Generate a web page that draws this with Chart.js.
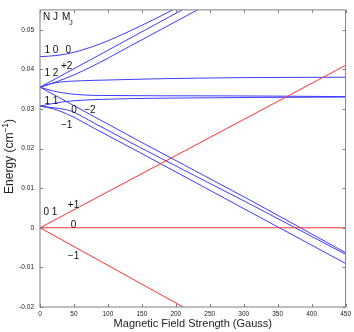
<!DOCTYPE html>
<html>
<head>
<meta charset="utf-8">
<script src="https://cdn.jsdelivr.net/npm/chart.js@4.4.1/dist/chart.umd.min.js"></script>
<style>
  html, body { margin: 0; padding: 0; background: #fff; }
</style>
</head>
<body>
<canvas id="canvas-zeeman" width="354" height="332"></canvas>
<script>
// tick values (x in Gauss, y in cm^-1)
const xTickValues = [0, 50, 100, 150, 200, 250, 300, 350, 400, 450];
const yTickValues = [-0.02, -0.01, 0, 0.01, 0.02, 0.03, 0.04, 0.05];
const yTickLabels = ['-0.02', '-0.01', '0', '0.01', '0.02', '0.03', '0.04', '0.05'];

// N=0, J=1 levels (red)
const n0j1Up = [[0, 0], [450, 0.0410]];
const n0j1Flat = [[0, 0], [450, 0]];
const n0j1Down = [[0, 0], [216, -0.0205]];

// N=1 levels (blue)
const n1j0m0 = [[0, 0.0432], [25, 0.0435], [50, 0.0443], [75, 0.0456], [100, 0.0472], [125, 0.0491], [150, 0.0511], [175, 0.0532], [200, 0.0554], [220, 0.0572]];
const n1j2Plus2 = [[0, 0.0355], [100, 0.0448], [220, 0.0560]];
const n1j2Plus1 = [[0, 0.0355], [25, 0.0369], [50, 0.0386], [75, 0.0406], [100, 0.0428], [132, 0.0458], [245, 0.0562]];
const n1j2FlatUp = [[0, 0.0355], [15, 0.0363], [30, 0.0368], [60, 0.0371], [100, 0.0373], [170, 0.0376], [300, 0.0379], [450, 0.0380]];
const n1j2FlatDown = [[0, 0.0355], [20, 0.0345], [45, 0.0338], [88, 0.0334], [270, 0.0333], [450, 0.0331]];
const n1j2Minus2 = [[0, 0.0355], [147, 0.0218], [308, 0.0071], [450, -0.0063]];
const n1j1Up = [[0, 0.0307], [20, 0.0314], [45, 0.0320], [88, 0.0324], [170, 0.0327], [450, 0.0330]];
const n1j1Zero = [[0, 0.0307], [20, 0.0303], [45, 0.0295], [80, 0.0264], [147, 0.0203], [308, 0.0061], [450, -0.0067]];
const n1j1Minus1 = [[0, 0.0307], [20, 0.0300], [45, 0.0283], [80, 0.0251], [147, 0.0190], [308, 0.0041], [450, -0.0090]];

// text labels placed in data units: [text, B, E, size]
const levelLabels = [
  ['N J', 4.4, 0.0531, 10],
  ['M', 32.5, 0.0531, 10],
  ['J', 43, 0.0516, 7],
  ['1 0', 6.6, 0.0449, 10],
  ['0', 37.4, 0.0449, 10],
  ['+2', 30.8, 0.0408, 10],
  ['1 2', 6.6, 0.0389, 10],
  ['1 1', 6.6, 0.0319, 10],
  ['0', 46.2, 0.0296, 10],
  ['\u22122', 65.2, 0.0296, 10],
  ['\u22121', 30.8, 0.0258, 10],
  ['0 1', 5.1, 0.0039, 10],
  ['+1', 41, 0.0058, 10],
  ['0', 45.4, 0.0006, 10],
  ['\u22121', 41, -0.0073, 10]
];

const BLUE = 'rgb(60,60,255)';
const RED = 'rgb(255,50,50)';
const FONT = '"Liberation Sans", Arial, sans-serif';

function toXY(pairs) {
  return pairs.map(p => ({ x: p[0], y: p[1] }));
}

function line(pairs, color) {
  return { data: toXY(pairs), borderColor: color, borderWidth: 1, pointRadius: 0, fill: false };
}

const boxPlugin = {
  id: 'matlabBox',
  afterDraw(chart) {
    const ctx = chart.ctx;
    const a = chart.chartArea;
    const xs = chart.scales.x, ys = chart.scales.y;
    ctx.save();
    ctx.strokeStyle = '#808080';
    ctx.lineWidth = 1;
    ctx.strokeRect(a.left, a.top, a.right - a.left, a.bottom - a.top);
    ctx.beginPath();
    xTickValues.forEach(v => {
      const px = Math.round(xs.getPixelForValue(v)) + 0.5;
      ctx.moveTo(px, a.bottom); ctx.lineTo(px, a.bottom - 3);
      ctx.moveTo(px, a.top); ctx.lineTo(px, a.top + 3);
    });
    yTickValues.forEach(v => {
      const py = Math.round(ys.getPixelForValue(v)) + 0.5;
      ctx.moveTo(a.left, py); ctx.lineTo(a.left + 3, py);
      ctx.moveTo(a.right, py); ctx.lineTo(a.right - 3, py);
    });
    ctx.stroke();

    // level labels
    ctx.fillStyle = '#111';
    ctx.textAlign = 'left';
    ctx.textBaseline = 'middle';
    levelLabels.forEach(l => {
      ctx.font = l[3] + 'px ' + FONT;
      ctx.fillText(l[0], xs.getPixelForValue(l[1]), ys.getPixelForValue(l[2]));
    });

    // y axis title with superscript
    const main = 'Energy (cm', sup = '\u22121', tail = ')';
    ctx.font = '12px ' + FONT;
    const w1 = ctx.measureText(main).width;
    const w3 = ctx.measureText(tail).width;
    ctx.font = '8.5px ' + FONT;
    const w2 = ctx.measureText(sup).width;
    const total = w1 + w2 + w3;
    ctx.translate(10, (a.top + a.bottom) / 2 - 2);
    ctx.rotate(-Math.PI / 2);
    ctx.fillStyle = '#222';
    ctx.textBaseline = 'middle';
    let x0 = -total / 2;
    ctx.font = '12px ' + FONT;
    ctx.fillText(main, x0, 0);
    ctx.font = '8.5px ' + FONT;
    ctx.fillText(sup, x0 + w1, -4);
    ctx.font = '12px ' + FONT;
    ctx.fillText(tail, x0 + w1 + w2, 0);
    ctx.restore();
  }
};

const ctx = document.getElementById('canvas-zeeman').getContext('2d');
new Chart(ctx, {
  type: 'line',
  data: {
    datasets: [
      line(n0j1Up, RED),
      line(n0j1Flat, RED),
      line(n0j1Down, RED),
      line(n1j0m0, BLUE),
      line(n1j2Plus2, BLUE),
      line(n1j2Plus1, BLUE),
      line(n1j2FlatUp, BLUE),
      line(n1j2FlatDown, BLUE),
      line(n1j2Minus2, BLUE),
      line(n1j1Up, BLUE),
      line(n1j1Zero, BLUE),
      line(n1j1Minus1, BLUE)
    ]
  },
  options: {
    responsive: false,
    animation: false,
    layout: { padding: { top: 1, right: 7, bottom: 0, left: 0 } },
    elements: { line: { cubicInterpolationMode: 'monotone' } },
    plugins: { legend: { display: false }, tooltip: { enabled: false } },
    scales: {
      x: {
        type: 'linear', min: 0, max: 450,
        afterBuildTicks: s => { s.ticks = xTickValues.map(v => ({ value: v })); },
        afterFit: s => { s.height = 25; },
        grid: { display: false, drawTicks: false },
        border: { display: false },
        ticks: { font: { family: FONT, size: 6.5 }, color: '#222', padding: 3, maxRotation: 0 },
        title: { display: true, text: 'Magnetic Field Strength (Gauss)', color: '#222',
                 font: { family: FONT, size: 11 }, padding: { top: 0, bottom: 1 } }
      },
      y: {
        type: 'linear', min: -0.02, max: 0.055,
        afterBuildTicks: s => { s.ticks = yTickValues.map(v => ({ value: v })); },
        afterFit: s => { s.width = 40; },
        grid: { display: false, drawTicks: false },
        border: { display: false },
        ticks: { font: { family: FONT, size: 6.5 }, color: '#222', padding: 6,
                 callback: (v, i) => yTickLabels[i] }
      }
    }
  },
  plugins: [boxPlugin]
});
</script>
</body>
</html>
